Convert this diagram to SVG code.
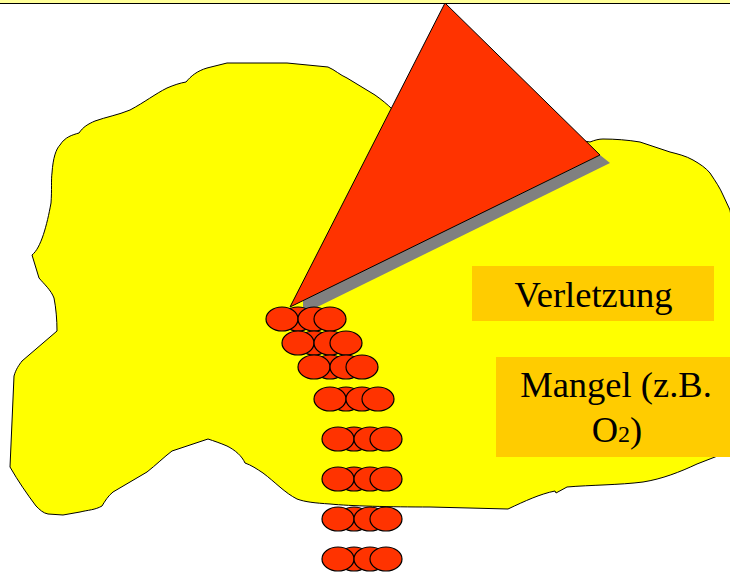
<svg xmlns="http://www.w3.org/2000/svg" width="730" height="573" viewBox="0 0 730 573">
  <style>
    .line { stroke: #000; stroke-width: 1; }
    .cell { fill: #FF3300; stroke: #000; stroke-width: 1.2; }
    .box { fill: #FFCC00; }
    .label { font-family: "Liberation Serif", "Times New Roman", serif; font-size: 36.5px; fill: #000; }
  </style>
  <defs>
    <g id="row">
      <ellipse class="cell" cx="16" cy="0" rx="16" ry="12"/>
      <ellipse class="cell" cx="0" cy="0" rx="16" ry="12"/>
      <ellipse class="cell" cx="32" cy="0" rx="16" ry="12"/>
      <ellipse class="cell" cx="48" cy="0" rx="16" ry="12"/>
    </g>
  </defs>
  <rect width="730" height="573" fill="#fff"/>
  <g id="top-band">
    <rect x="0" y="0" width="730" height="3" fill="#FFFF99"/>
    <rect x="0" y="3" width="730" height="1" fill="#000"/>
  </g>
  <g id="tissue">
    <path class="line" fill="#FFFF00" d="M32 255 C41 248 47 225 51 203 C52 190 51 180 52 173 C53 158 56 149 60 145 C65 137 72 135 79 133 C83 127 88 124 95 121 C106 117 118 115 130 110 C145 102 155 94 167 88 C174 85 180 83 186 82 C191 76 197 71 207 68 L227 63 L287 63 L328 67 C335 70 340 75 347 78 L375 95 C382 100 387 104 392 109 L590 142 C595 140 599 139 603 139 C615 139 628 140 640 142 C650 145 660 149 670 152 C678 154 686 156 693 160 C700 164 706 168 710 173 C716 182 720 188 723 195 L730 210 L745 300 L730 450 L715 457 L697 464 C680 472 662 479 643 482 C620 485 590 485 567 487 L556 493 L555 491 C540 494 525 501 508 509 L430 507 C390 507 350 506 330 504 C315 503 305 502 297 499 C285 493 275 482 263 473 C257 469 251 465 245 463 C242 456 235 450 227 446 C220 443 214 441 208 439 L172 451 C164 457 156 465 147 472 L113 492 C108 496 105 501 102 506 C95 510 88 510 80 512 L63 515 L48 514 C43 513 40 510 36 506 C27 494 18 481 10 467 L14 376 C16 369 19 365 22 361 L57 331 C57 320 56 308 54 298 C51 290 44 284 39 278 Z"/>
  </g>
  <g id="wedge">
    <polygon fill="#808080" points="303,300 600,155 610,163 303,314"/>
    <polygon class="line" fill="#FF3300" points="445,3 600,155 290,307"/>
  </g>
  <g id="cells">
    <use href="#row" x="282" y="319"/>
    <use href="#row" x="298" y="343"/>
    <use href="#row" x="314" y="367"/>
    <use href="#row" x="330" y="399"/>
    <use href="#row" x="338" y="439"/>
    <use href="#row" x="338" y="479"/>
    <use href="#row" x="338" y="519"/>
    <use href="#row" x="338" y="559"/>
  </g>
  <g id="verletzung">
    <rect class="box" x="472" y="266" width="242" height="55"/>
    <text class="label" x="593.5" y="307" text-anchor="middle">Verletzung</text>
  </g>
  <g id="mangel">
    <rect class="box" x="496" y="357" width="234" height="100"/>
    <text class="label" x="616" y="397" text-anchor="middle">Mangel (z.B.</text>
    <text class="label" x="617" y="442" text-anchor="middle">O<tspan font-size="24">2</tspan>)</text>
  </g>
</svg>
